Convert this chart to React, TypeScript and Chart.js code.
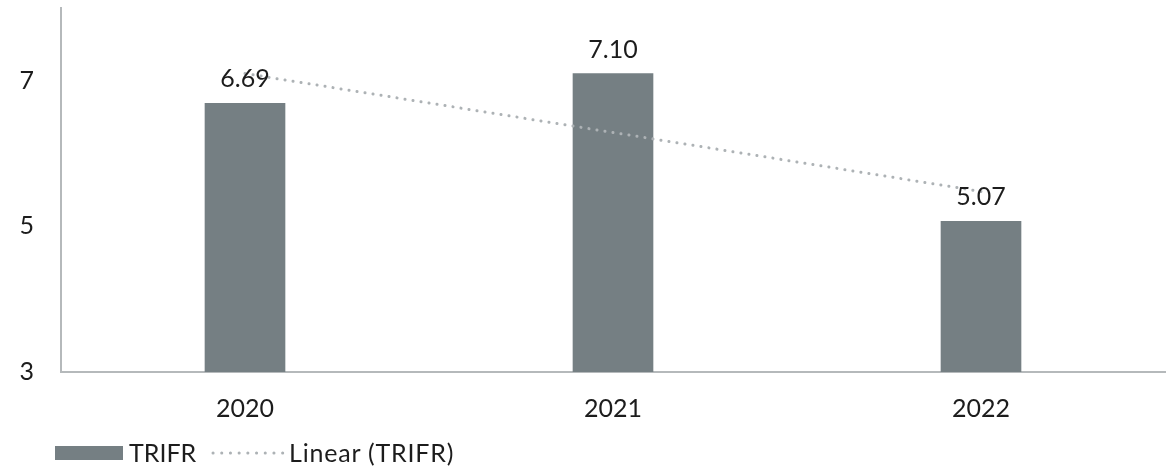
import React, { useEffect, useRef } from "react";
import { Chart, registerables } from "chart.js";

Chart.register(...registerables);

const years = ["2020", "2021", "2022"];
const trifr = [6.69, 7.1, 5.07];
const trendTrifr = [7.1, 6.29, 5.48];
const yTicks = [3, 5, 7];

const FONT = "Lato, 'Liberation Sans', sans-serif";
const BAR_COLOR = "#757f83";
const TREND_COLOR = "#adb2b5";
const AXIS_COLOR = "#b5b9bb";
const TEXT_COLOR = "#1c1c1c";

// Value labels drawn above each TRIFR bar
const valueLabels = {
  id: "valueLabels",
  afterDatasetsDraw(chart: any) {
    const meta = chart.getDatasetMeta(1);
    const ctx = chart.ctx;
    ctx.save();
    ctx.font = `25px ${FONT}`;
    ctx.fillStyle = TEXT_COLOR;
    ctx.textAlign = "center";
    ctx.textBaseline = "alphabetic";
    meta.data.forEach((bar: any, i: number) => {
      ctx.fillText(trifr[i].toFixed(2), bar.x, bar.y - 16);
    });
    ctx.restore();
  },
};

export default function App() {
  const canvasRef = useRef<HTMLCanvasElement | null>(null);

  useEffect(() => {
    const chart = new Chart(canvasRef.current as HTMLCanvasElement, {
      type: "bar",
      data: {
        labels: years,
        datasets: [
          {
            type: "line",
            label: "Linear (TRIFR)",
            data: trendTrifr,
            borderColor: TREND_COLOR,
            borderWidth: 3,
            borderDash: [0.1, 8],
            borderCapStyle: "round",
            pointRadius: 0,
            fill: false,
            order: 0,
          } as any,
          {
            type: "bar",
            label: "TRIFR",
            data: trifr,
            backgroundColor: BAR_COLOR,
            barThickness: 80,
            order: 1,
          },
        ],
      },
      options: {
        animation: false,
        responsive: false,
        maintainAspectRatio: false,
        layout: { padding: { top: 8, right: 6, left: 0, bottom: 0 } },
        plugins: {
          legend: { display: false },
          tooltip: { enabled: false },
        },
        scales: {
          x: {
            grid: { display: false, drawTicks: false },
            border: { display: true, color: AXIS_COLOR, width: 2 },
            ticks: {
              color: TEXT_COLOR,
              font: { family: FONT, size: 25 },
              padding: 22,
            },
            afterFit(scale: any) {
              scale.height = 96;
              scale.paddingLeft = 0;
              scale.paddingRight = 0;
            },
          },
          y: {
            min: 3,
            max: 8,
            grid: { display: false, drawTicks: false },
            border: { display: true, color: AXIS_COLOR, width: 2 },
            ticks: {
              color: TEXT_COLOR,
              font: { family: FONT, size: 25 },
              padding: 27,
            },
            afterBuildTicks(scale: any) {
              scale.ticks = yTicks.map((v) => ({ value: v }));
            },
            afterFit(scale: any) {
              scale.width = 61;
              scale.paddingTop = 0;
              scale.paddingBottom = 0;
            },
          },
        },
      },
      plugins: [valueLabels],
    });
    return () => chart.destroy();
  }, []);

  const legendText: React.CSSProperties = {
    position: "absolute",
    top: 437,
    fontFamily: FONT,
    fontSize: 25,
    color: TEXT_COLOR,
    lineHeight: "30px",
    letterSpacing: "0.8px",
    whiteSpace: "nowrap",
  };

  return (
    <div style={{ position: "absolute", left: 0, top: 0, width: 1171, height: 468, background: "#fff" }}>
      <canvas ref={canvasRef} width={1171} height={468} style={{ display: "block" }} />
      <div style={{ position: "absolute", left: 55, top: 446, width: 68, height: 14, background: BAR_COLOR }} />
      <div style={{ ...legendText, left: 129, letterSpacing: "0px" }}>TRIFR</div>
      <svg style={{ position: "absolute", left: 210, top: 449 }} width={76} height={8}>
        <line x1={3} y1={4} x2={73} y2={4} stroke={TREND_COLOR} strokeWidth={3} strokeLinecap="round" strokeDasharray="0.1 8.6" />
      </svg>
      <div style={{ ...legendText, left: 289 }}>Linear (TRIFR)</div>
    </div>
  );
}
